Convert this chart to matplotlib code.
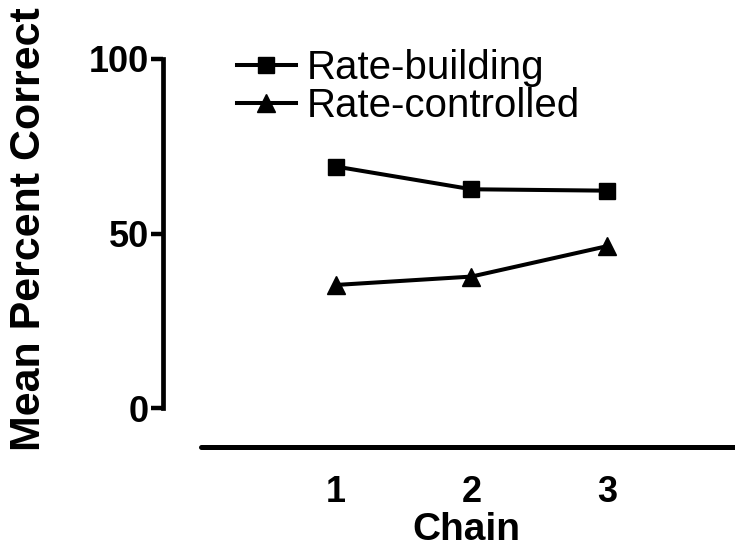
import matplotlib
matplotlib.use("Agg")
import matplotlib.pyplot as plt

chains = [1, 2, 3]
rate_building = [69.2, 62.7, 62.3]
rate_controlled = [35.3, 37.7, 46.4]
yticks = [0, 50, 100]
xticks = [1, 2, 3]

plt.rcParams['font.family'] = ['Liberation Sans', 'DejaVu Sans']

fig = plt.figure(figsize=(7.35, 5.5), dpi=100)
ax = fig.add_axes([163/735, 103/550, (735-163)/735, (447-59)/550])

lw = 2.9
ax.plot(chains, rate_building, color='black', lw=lw, marker='s', ms=11.5,
        label='Rate-building', clip_on=False)
ax.plot(chains, rate_controlled, color='black', lw=lw, marker='^', ms=12.5,
        label='Rate-controlled', clip_on=False)

ax.set_xlim(-0.277, 3.945)
ax.set_ylim(-11.1, 100)

for s in ['top', 'right']:
    ax.spines[s].set_visible(False)
ax.spines['left'].set_bounds(0, 100)
ax.spines['bottom'].set_bounds(0, 3.945)
ax.spines['left'].set_linewidth(3.4)
ax.spines['bottom'].set_linewidth(3.6)
ax.spines['bottom'].set_capstyle('round')

ax.set_yticks(yticks)
ax.set_yticklabels([str(v) for v in yticks], fontsize=26, fontweight='bold')
ax.set_xticks(xticks)
ax.set_xticklabels([str(v) for v in xticks], fontsize=26, fontweight='bold')
ax.tick_params(axis='y', length=9, width=3.2, pad=1)
ax.tick_params(axis='x', length=0, pad=20)

fig.text(466/735, 1 - 540/550, 'Chain', fontsize=28, fontweight='bold',
         ha='center', va='baseline')
fig.text(29/735, 1 - 229/550, 'Mean Percent Correct', fontsize=31,
         fontweight='bold', rotation=90, ha='center', va='center')

leg = ax.legend(loc='upper left', bbox_to_anchor=(0.129, 1.026), frameon=False,
                fontsize=29, handlelength=1.47, handletextpad=0.27,
                labelspacing=0.0, borderaxespad=0, borderpad=0)

fig.savefig('out.png', dpi=100)
